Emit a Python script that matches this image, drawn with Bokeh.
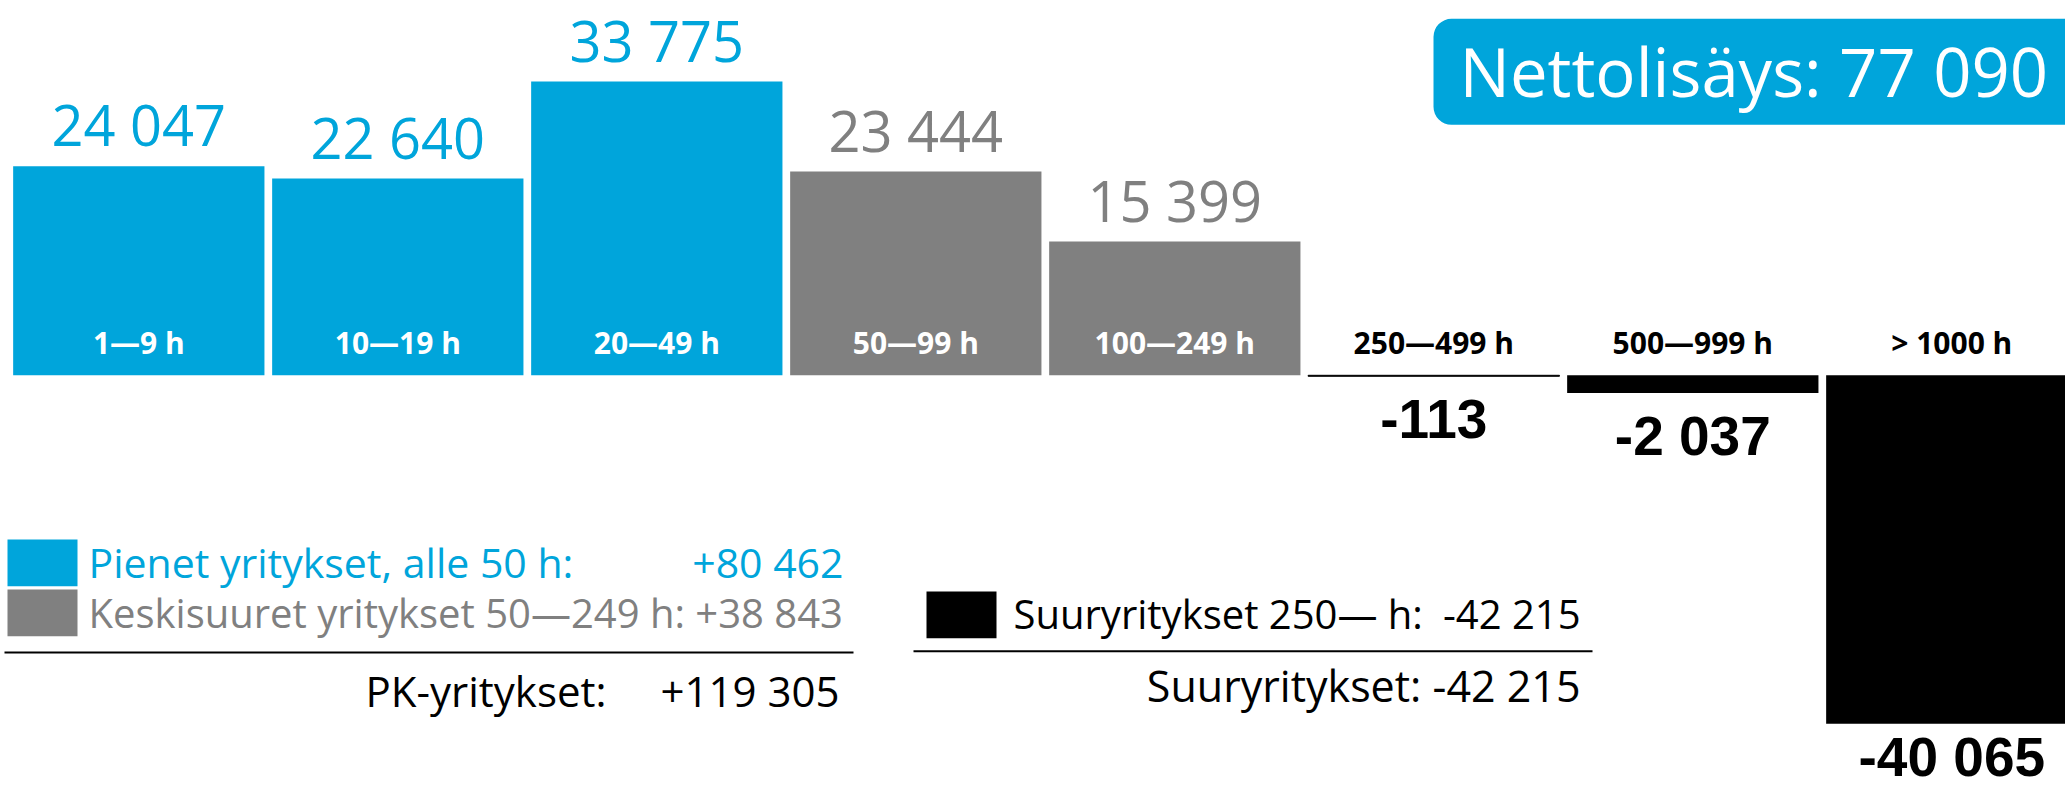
from bokeh.plotting import figure
from bokeh.models import Range1d, ColumnDataSource, BoxAnnotation, Label
from bokeh.core.properties import value
from bokeh.embed import file_html
from bokeh.resources import INLINE

# ---------------- data ----------------
categories = ["1—9 h", "10—19 h", "20—49 h", "50—99 h", "100—249 h",
              "250—499 h", "500—999 h", "> 1000 h"]
net_change = [24047, 22640, 33775, 23444, 15399, -113, -2037, -40065]
size_class = ["small", "small", "small", "medium", "medium",
              "large", "large", "large"]

class_colors = {"small": "#00A5DB", "medium": "#808080", "large": "#000000"}
class_labels = {"small": "Pienet yritykset, alle 50 h:",
                "medium": "Keskisuuret yritykset 50—249 h:",
                "large": "Suuryritykset 250— h:"}
pk_title = "PK-yritykset:"
large_title = "Suuryritykset:"
total_title = "Nettolisäys:"


def fmt(n, sign=False):
    s = f"{abs(n):,}".replace(",", " ")
    if n < 0:
        return "-" + s
    return ("+" + s) if sign else s


sums = {k: sum(v for v, c in zip(net_change, size_class) if c == k) for k in class_colors}
pk_sum = sums["small"] + sums["medium"]
total = sum(net_change)

# ---------------- geometry (page pixels) ----------------
W, H, PAGE = 2065, 790, 0
X0, PITCH, BAR_W = 138.3, 259.0, 251.3
Y0, UPP = 374.8, 115.0
K = 0.38  # baseline correction (fraction of font size)


def dx(px):
    return (px - X0) / PITCH


def dy(py):
    return (Y0 - py) * UPP


p = figure(width=W, height=H,
           x_range=Range1d(dx(PAGE), dx(PAGE + W)),
           y_range=Range1d(dy(PAGE + H), dy(PAGE)),
           x_axis_type=None, y_axis_type=None,
           toolbar_location=None, output_backend="svg",
           min_border=0, title=None)
p.outline_line_color = None
p.background_fill_color = "white"
p.border_fill_color = "white"

OPEN = value("Open Sans")
BLUE = class_colors["small"]
GRAY = class_colors["medium"]

idx = list(range(len(categories)))
colors = [class_colors[c] for c in size_class]
src = ColumnDataSource(dict(
    x=idx, top=net_change, color=colors, cat=categories,
    catcolor=["white" if v > 0 else "black" for v in net_change],
    edge=[1.0 if abs(v) / UPP < 2 else 0.0 for v in net_change],
))
p.vbar(x="x", top="top", bottom=0, width=BAR_W / PITCH,
       fill_color="color", line_color="color", line_alpha="edge", line_width=1,
       source=src)

# category labels
CAT_SIZE = 30
p.text(x="x", y=0, text="cat", text_color="catcolor", y_offset=-21.5 - K * CAT_SIZE,
       text_align="center", text_baseline="alphabetic",
       text_font=OPEN, text_font_style="bold", text_font_size=f"{CAT_SIZE}px", source=src)

# value labels above positive bars
VAL_SIZE = 56
pos = [i for i, v in enumerate(net_change) if v > 0]
pos_src = ColumnDataSource(dict(
    x=[idx[i] for i in pos], y=[net_change[i] for i in pos],
    t=[fmt(net_change[i]) for i in pos], c=[colors[i] for i in pos]))
p.text(x="x", y="y", text="t", text_color="c", y_offset=-20.5 - K * VAL_SIZE,
       text_align="center", text_baseline="alphabetic",
       text_font=OPEN, text_font_size=f"{VAL_SIZE}px", source=pos_src)

# value labels below negative bars
NEG_SIZE = 55
neg = [i for i, v in enumerate(net_change) if v < 0]
neg_off = [min(64.0, (PAGE + H - 13) - (Y0 - net_change[i] / UPP)) - K * NEG_SIZE for i in neg]
neg_src = ColumnDataSource(dict(
    x=[idx[i] for i in neg], y=[net_change[i] for i in neg],
    t=[fmt(net_change[i]) for i in neg], off=neg_off))
p.text(x="x", y="y", text="t", text_color="black", y_offset="off",
       text_align="center", text_baseline="alphabetic",
       text_font=value("Liberation Sans"), text_font_style="bold",
       text_font_size=f"{NEG_SIZE}px", source=neg_src)

# total box
p.add_layout(BoxAnnotation(left=dx(1433), right=dx(2085), top=dy(18.3), bottom=dy(124.3),
                           fill_color=BLUE, fill_alpha=1.0, line_color=None,
                           border_radius=18))


def lab(x, y, text, color="black", align="left", size=40, font="Open Sans", style="normal"):
    p.add_layout(Label(x=dx(x), y=dy(y - K * size), text=text, text_color=color,
                       text_align=align, text_baseline="alphabetic",
                       text_font=font, text_font_size=f"{size}px",
                       text_font_style=style))


lab(1459, 95.7, f"{total_title} {fmt(total)}", "white", size=67)

# legend swatches
p.quad(left=[dx(7), dx(7), dx(926)], right=[dx(77), dx(77), dx(996)],
       top=[dy(539), dy(589), dy(591)], bottom=[dy(585.7), dy(635.7), dy(637.7)],
       fill_color=[BLUE, GRAY, class_colors["large"]], line_color=None)

lab(88, 576.7, class_labels["small"], BLUE, size=41)
lab(843, 576.7, fmt(sums["small"], True), BLUE, "right", size=41)
lab(88, 626.7, f"{class_labels['medium']} {fmt(sums['medium'], True)}", GRAY, size=40)
lab(1013, 628.3, class_labels["large"], "black", size=40)
lab(1580, 628.3, fmt(sums["large"]), "black", "right", size=40)

# separator lines
p.line(x=[dx(4), dx(853)], y=[dy(652), dy(652)], line_color="black", line_width=2)
p.line(x=[dx(913), dx(1592)], y=[dy(650.7), dy(650.7)], line_color="black", line_width=2)

# summary rows
lab(365, 706, pk_title, "black", size=42)
lab(839, 706, fmt(pk_sum, True), "black", "right", size=42)
lab(1580, 701, f"{large_title} {fmt(sums['large'])}", "black", "right", size=43)

open("out.html", "w").write(file_html(p, INLINE))
